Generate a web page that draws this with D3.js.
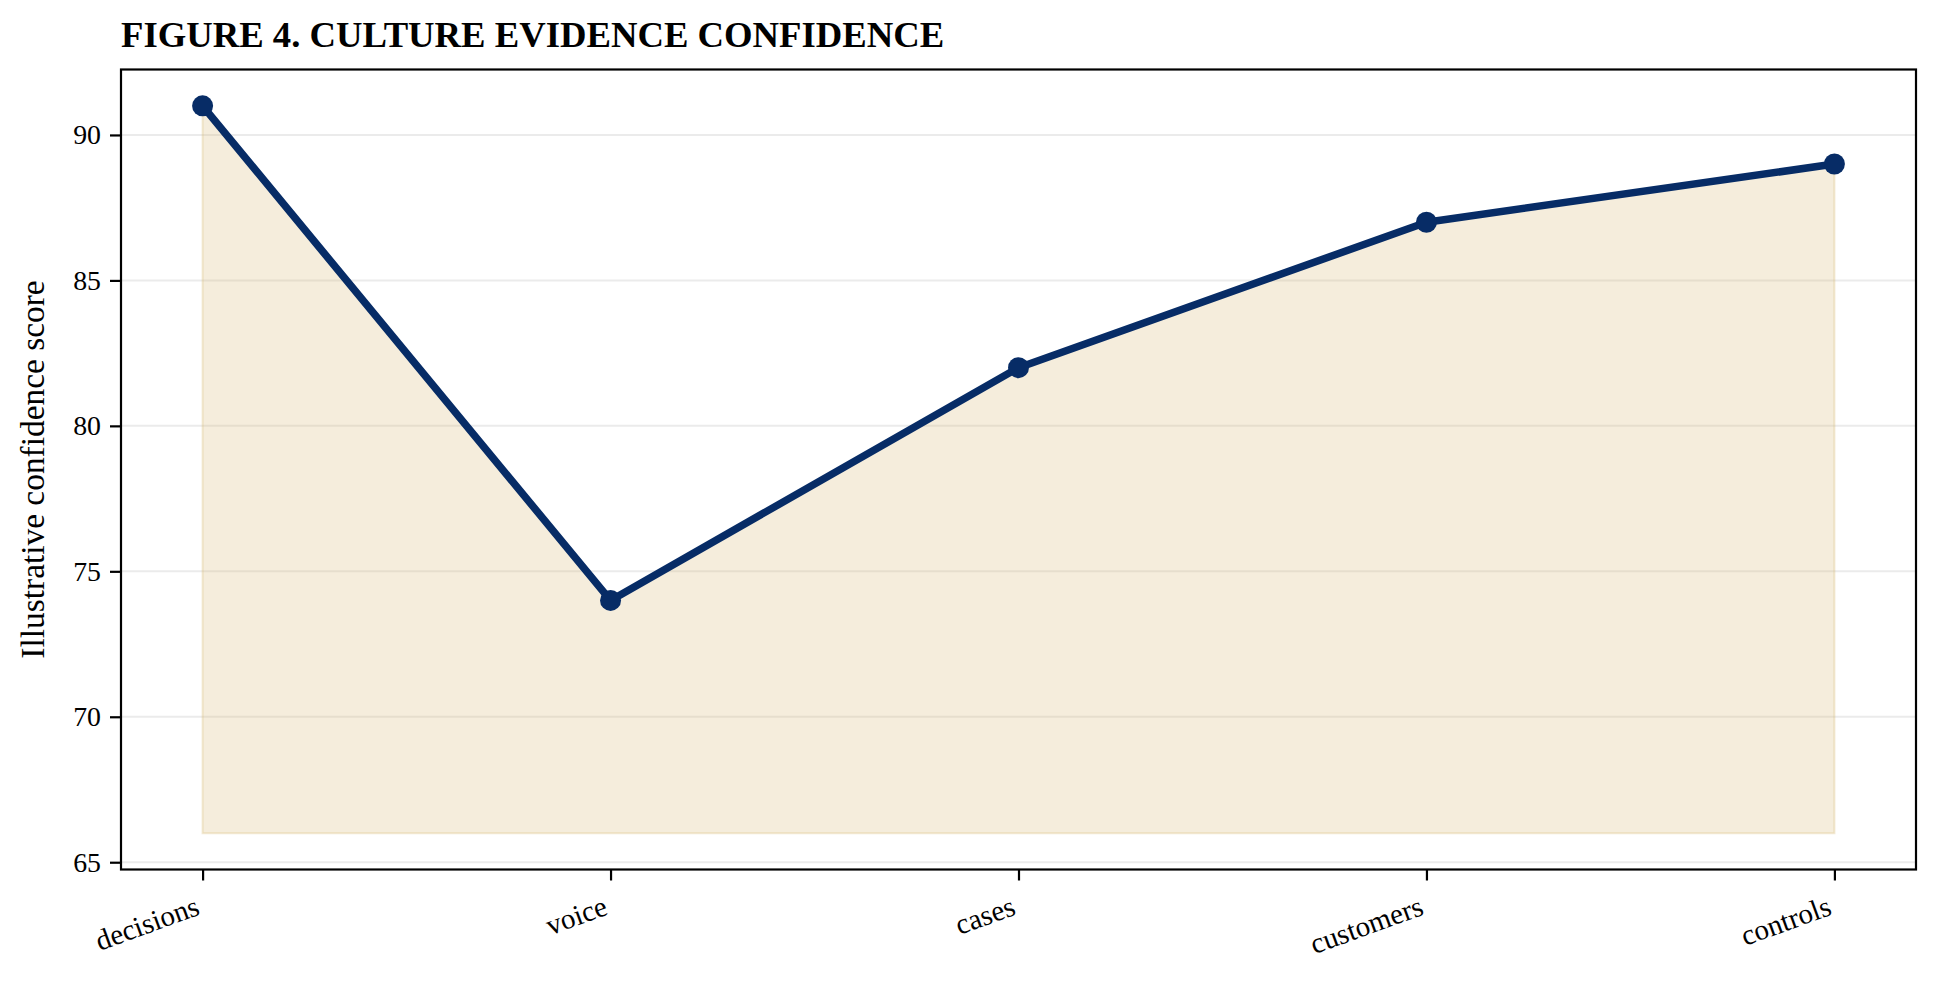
<!DOCTYPE html>
<html>
<head>
<meta charset="utf-8">
<script src="https://cdn.jsdelivr.net/npm/d3@7"></script>
<style>
  body { margin: 0; background: #fff; }
  text { font-family: "Liberation Serif", "DejaVu Serif", serif; fill: #000; }
</style>
</head>
<body>
<div id="chart"></div>
<script>
var categories = ['decisions', 'voice', 'cases', 'customers', 'controls'];
var scores = [91, 74, 82, 87, 89];
var yTicks = [65, 70, 75, 80, 85, 90];
var fillBase = 66;

var width = 1940, height = 983;
var margin = { top: 69.5, right: 24, bottom: 113.5, left: 121 };
var innerW = width - margin.left - margin.right;
var innerH = height - margin.top - margin.bottom;

var svg = d3.select('#chart').append('svg')
    .attr('width', width)
    .attr('height', height);

svg.append('text')
    .attr('x', margin.left)
    .attr('y', 47)
    .attr('font-size', '36.7px')
    .attr('font-weight', 'bold')
    .text('FIGURE 4. CULTURE EVIDENCE CONFIDENCE');

var x = d3.scaleLinear()
    .domain([-0.2, categories.length - 1 + 0.2])
    .range([0, innerW]);

var y = d3.scaleLinear()
    .domain([64.75, 92.25])
    .range([innerH, 0]);

var g = svg.append('g')
    .attr('transform', 'translate(' + margin.left + ',' + margin.top + ')');

// horizontal grid
g.selectAll('.grid')
    .data(yTicks)
    .enter()
    .append('line')
    .attr('x1', 0)
    .attr('x2', innerW)
    .attr('y1', function(d) { return y(d); })
    .attr('y2', function(d) { return y(d); })
    .attr('stroke', '#ebebeb')
    .attr('stroke-width', 2);

var area = d3.area()
    .x(function(d, i) { return x(i); })
    .y0(y(fillBase))
    .y1(function(d) { return y(d); });

g.append('path')
    .datum(scores)
    .attr('d', area)
    .attr('fill', '#d6b872')
    .attr('fill-opacity', 0.25)
    .attr('stroke', '#d6b872')
    .attr('stroke-opacity', 0.3)
    .attr('stroke-width', 2);

var line = d3.line()
    .x(function(d, i) { return x(i); })
    .y(function(d) { return y(d); });

g.append('path')
    .datum(scores)
    .attr('d', line)
    .attr('fill', 'none')
    .attr('stroke', '#072c66')
    .attr('stroke-width', 7.5)
    .attr('stroke-linejoin', 'round');

g.selectAll('.dot')
    .data(scores)
    .enter()
    .append('circle')
    .attr('cx', function(d, i) { return x(i); })
    .attr('cy', function(d) { return y(d); })
    .attr('r', 10.5)
    .attr('fill', '#072c66');

// y axis
var yAxis = g.append('g')
    .call(d3.axisLeft(y).tickValues(yTicks).tickSize(11).tickPadding(9));
yAxis.select('.domain').remove();
yAxis.selectAll('line').attr('stroke', '#000').attr('stroke-width', 2.2);
yAxis.selectAll('text')
    .attr('font-size', '27.8px')
    .style('font-family', '"Liberation Serif", serif');

// x axis
var xAxis = g.append('g')
    .attr('transform', 'translate(0,' + innerH + ')')
    .call(d3.axisBottom(x)
        .tickValues(d3.range(categories.length))
        .tickFormat(function(i) { return categories[i]; })
        .tickSize(11));
xAxis.select('.domain').remove();
xAxis.selectAll('line').attr('stroke', '#000').attr('stroke-width', 2.2);
xAxis.selectAll('text')
    .attr('font-size', '29px')
    .style('font-family', '"Liberation Serif", serif')
    .attr('text-anchor', 'end')
    .attr('dy', null)
    .attr('y', 0)
    .attr('dominant-baseline', 'hanging')
    .attr('transform', 'translate(-9,25) rotate(-20)');

// frame
g.append('rect')
    .attr('width', innerW)
    .attr('height', innerH)
    .attr('fill', 'none')
    .attr('stroke', '#000')
    .attr('stroke-width', 2.2);

svg.append('text')
    .attr('transform', 'translate(44,' + (margin.top + innerH / 2) + ') rotate(-90)')
    .attr('text-anchor', 'middle')
    .attr('font-size', '33.4px')
    .text('Illustrative confidence score');
</script>
</body>
</html>
